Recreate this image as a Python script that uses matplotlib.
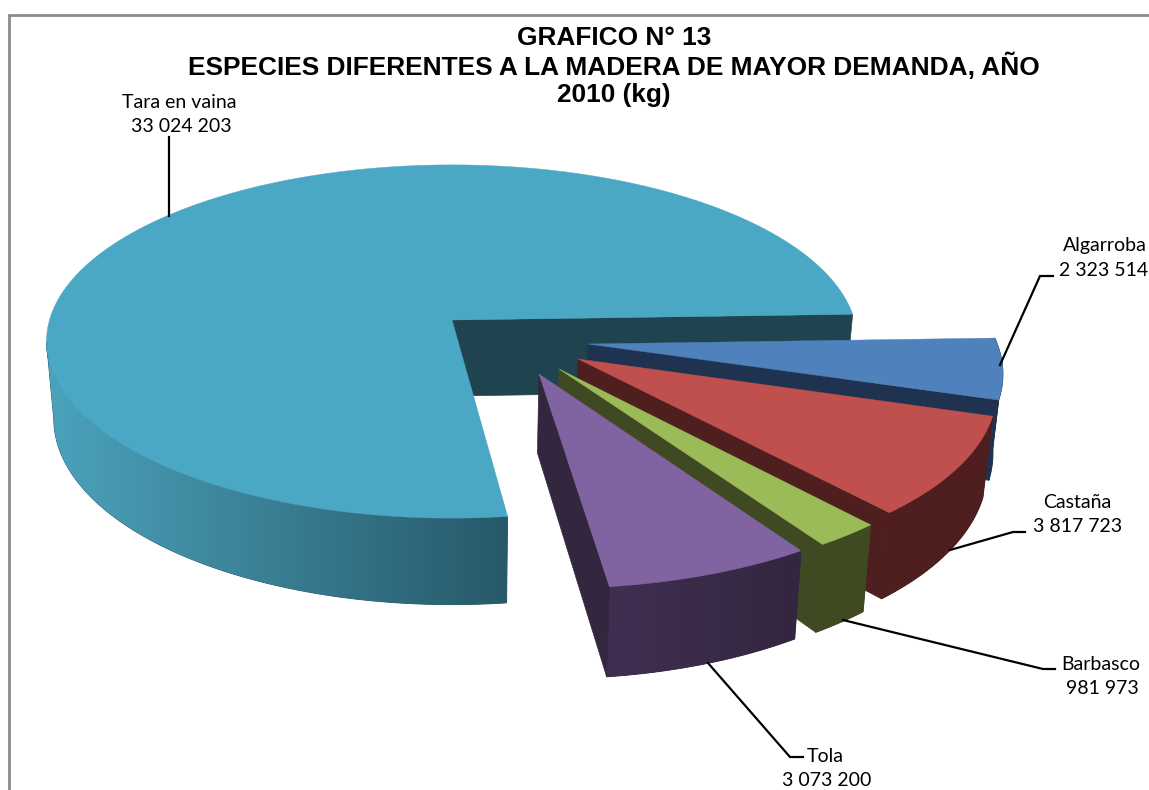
import numpy as np
import matplotlib
matplotlib.use("Agg")
import matplotlib.pyplot as plt
from matplotlib.patches import Polygon
from matplotlib.colors import to_rgb

# ---- data ----
species = ["Tara en vaina", "Tola", "Barbasco", "Castaña", "Algarroba"]
values = [33024203, 3073200, 981973, 3817723, 2323514]
value_labels = ["33 024 203", "3 073 200", "981 973", "3 817 723", "2 323 514"]
title_lines = ["GRAFICO N° 13",
               "ESPECIES DIFERENTES A LA MADERA DE MAYOR DEMANDA, AÑO",
               "2010 (kg)"]

# ---- style / layout ----
top_colors = ["#4aa8c4", "#8064a2", "#9bbb59", "#c0504d", "#4f81bd"]
wall_colors = ["#1f4450", "#33263f", "#404a22", "#4f1e1e", "#1f3350"]
rim_left = ["#4ba3bc", "#412f52", "#404a22", "#4f1e1e", "#1f3350"]
rim_right = ["#27596a", "#33263f", "#404a22", "#4f1e1e", "#1f3350"]
apexes = [(452, 320), (539, 374), (559, 369), (578, 359), (588, 344)]
draw_order = [0, 4, 3, 2, 1]
START = 1.9
CX, CY, A, B, K, DEPTH, SHRINK = 451.5, 320, 402.5, 174, 0.1217, 76, 0.982


def plane(px, py):
    """screen point -> pie plane"""
    v = -(py - CY) / (B + K * (py - CY))
    u = (px - CX) * (1 + K * v) / A
    return u, v


def project(u, v):
    w = 1 + K * v
    x = CX + A * u / w
    y = CY - B * v / w
    xb = CX + (x - CX) * SHRINK
    yb = y + DEPTH / w
    return x, y, xb, yb


fig = plt.figure(figsize=(11.49, 7.90), dpi=100)
ax = fig.add_axes([0, 0, 1, 1])
ax.axis("off")

# chart frame
ax.plot([9, 9, 1149], [790, 15, 15], color="#8c8c8c", lw=2, solid_joinstyle="miter")

total = sum(values)
sweeps = [360.0 * val / total for val in values]
starts = START + np.concatenate([[0], np.cumsum(sweeps)[:-1]])

z = 2
for i in draw_order:
    sw, st = sweeps[i], starts[i]
    u0, v0 = plane(*apexes[i])
    th = np.radians(np.linspace(st, st + sw, 240))
    us, vs = u0 + np.cos(th), v0 + np.sin(th)
    x, y, xb, yb = project(us, vs)
    ax0, ay0, axb, ayb = project(u0, v0)

    # rim, with a left-to-right shade clipped to the rim outline
    # (the big slice shows its rim only from its leftmost point onward)
    first = int(np.argmin(x)) if i == 0 else 0
    rim_xy = np.column_stack([np.r_[x[first:], xb[first:][::-1]], np.r_[y[first:], yb[first:][::-1]]])
    rim = Polygon(rim_xy, closed=True, fc=rim_right[i], ec=rim_right[i], lw=0.6, zorder=z)
    ax.add_patch(rim)
    c0, c1 = np.array(to_rgb(rim_left[i])), np.array(to_rgb(rim_right[i]))
    ramp = np.linspace(0, 1, 256)[None, :, None]
    shade = c0[None, None, :] + (c1 - c0)[None, None, :] * ramp
    im = ax.imshow(shade, extent=[rim_xy[:, 0].min(), rim_xy[:, 0].max(), rim_xy[:, 1].max(), rim_xy[:, 1].min()],
                   aspect="auto", zorder=z + 0.1, interpolation="bilinear")
    im.set_clip_path(Polygon(rim_xy, closed=True, transform=ax.transData))

    # radial cut face turned to the viewer
    ax.add_patch(Polygon([(ax0, ay0), (x[0], y[0]), (xb[0], yb[0]), (axb, ayb)],
                         closed=True, fc=wall_colors[i], ec=wall_colors[i], lw=0.5, zorder=z + 0.2))

    # top face
    ax.add_patch(Polygon(np.column_stack([np.r_[ax0, x], np.r_[ay0, y]]),
                         closed=True, fc=top_colors[i], ec=top_colors[i], lw=0.3, zorder=z + 0.3))
    z += 1

ax.set_xlim(0, 1149)
ax.set_ylim(790, 0)

# title
title_font = dict(family="Liberation Sans", weight="bold", fontsize=18.9, color="black",
                  ha="center", va="center", zorder=20)
for text, tx, ty in zip(title_lines, [614, 614, 614], [38, 66, 95]):
    ax.text(tx, ty, text, **title_font)

# leaders
leaders = [
    ([169, 169], [137, 216]),
    ([708, 790, 803], [663, 757, 757]),
    ([843, 1043, 1055], [620, 669, 669]),
    ([950, 1013, 1025], [550, 532, 532]),
    ([1000, 1040, 1053], [365, 276, 276]),
]
for lx, ly in leaders:
    ax.plot(lx, ly, color="black", lw=1.6, zorder=15, solid_joinstyle="miter")

# labels
label_font = dict(family="Lato", fontsize=14, color="black", ha="center", va="center", zorder=20)
name_pos = [(179, 102), (825, 756), (1101, 664), (1077, 503), (1105, 246)]
val_pos = [(181, 126), (827, 781), (1102, 688), (1078, 527), (1104, 271)]
for name, val, np_, vp in zip(species, value_labels, name_pos, val_pos):
    ax.text(np_[0], np_[1], name, **label_font)
    ax.text(vp[0], vp[1], val, **label_font)

fig.savefig("out.png", dpi=100)
